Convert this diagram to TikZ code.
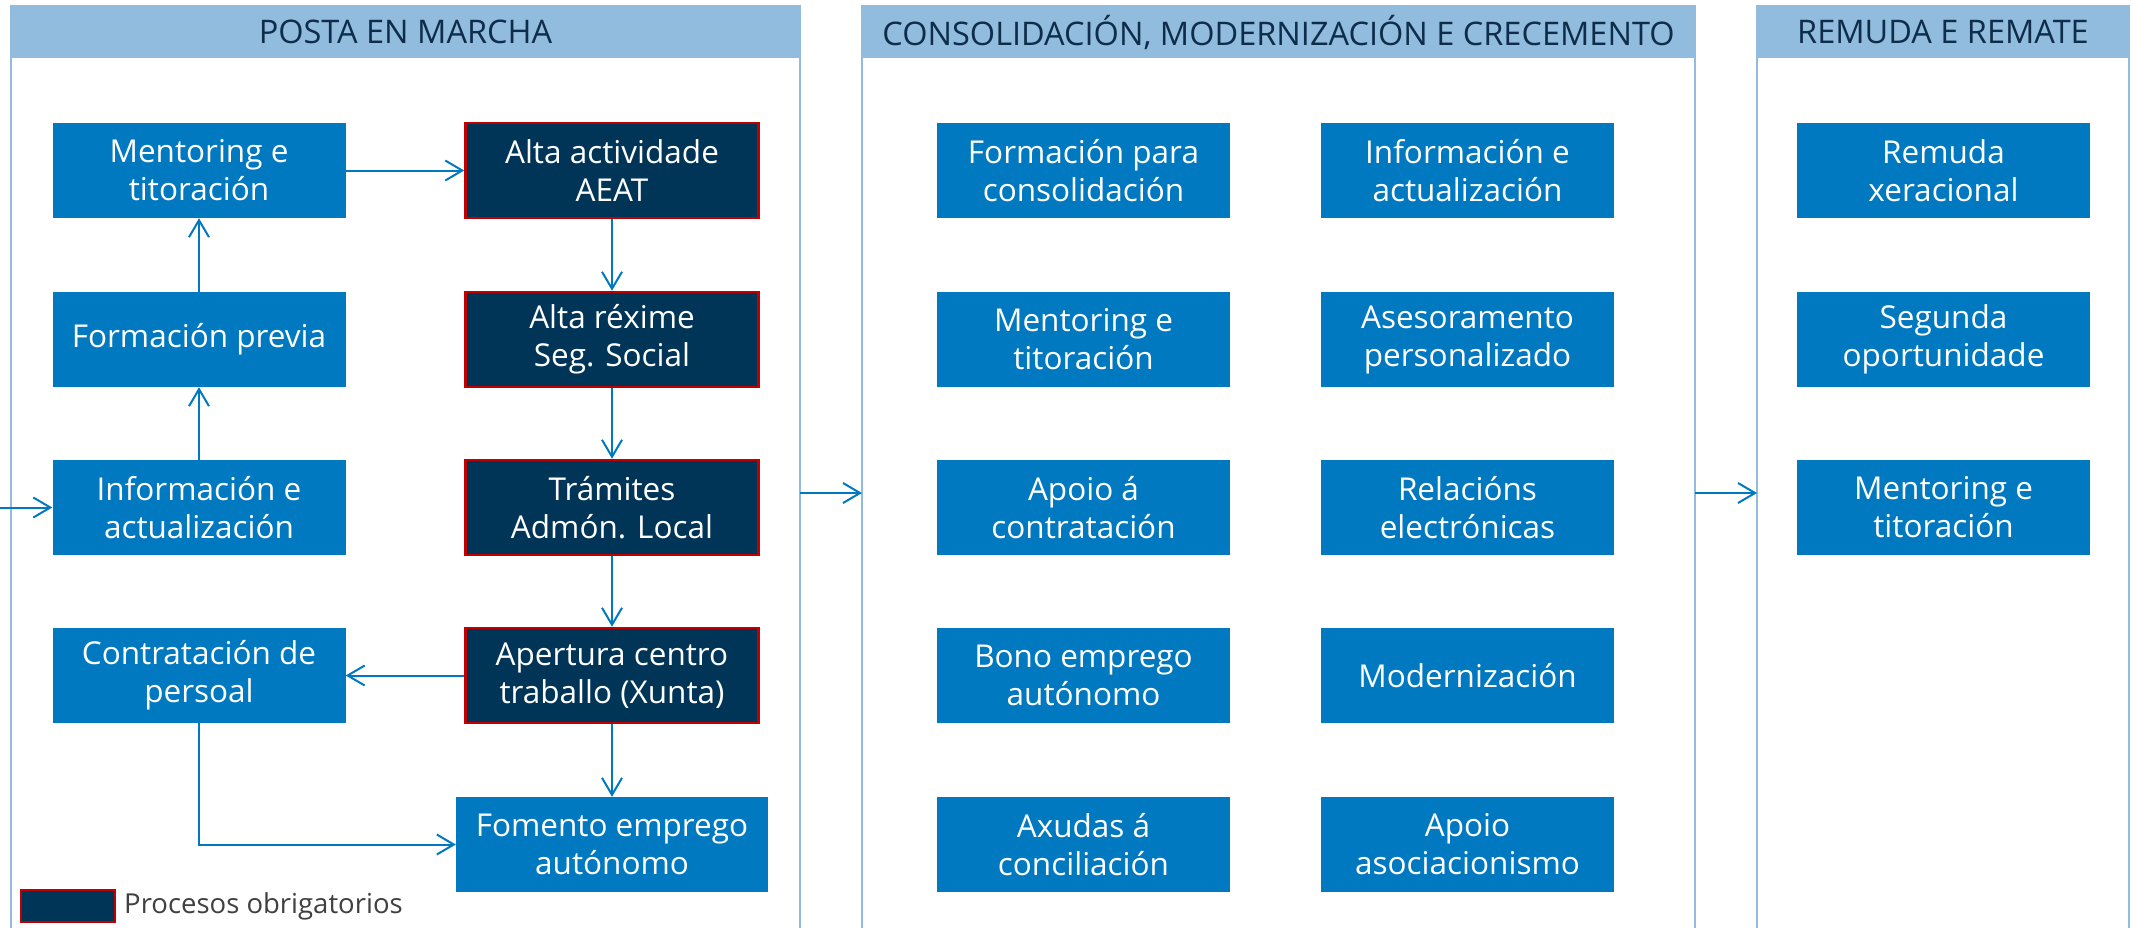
\documentclass[tikz,border=0pt]{standalone}
\usepackage{fontspec}
\setmainfont{Open Sans}
\usetikzlibrary{arrows.meta}
\definecolor{boxblue}{HTML}{0079C1}
\definecolor{darkbox}{HTML}{003558}
\definecolor{redline}{HTML}{C00000}
\definecolor{headfill}{HTML}{92BCDD}
\definecolor{headtext}{HTML}{0D2D4B}
\definecolor{legtext}{HTML}{404040}
\tikzset{
  stepbox/.style={fill=boxblue, minimum width=293pt, minimum height=95pt, inner sep=0pt,
    text=white, align=center, font=\fontsize{31.5}{38}\selectfont},
  mandbox/.style={stepbox, fill=darkbox, draw=redline, line width=2.5pt},
  conn/.style={draw=boxblue, line width=2pt, -{Straight Barb[length=17pt,width=20pt,line width=2pt]}},
  panelline/.style={draw=headfill, line width=2pt},
  headlabel/.style={text=headtext, font=\fontsize{32.5}{36}\selectfont, inner sep=0pt}
}
\begin{document}
\begin{tikzpicture}[x=1pt,y=-1pt]
\useasboundingbox (0,0) rectangle (2131,927);
\fill[white] (0,0) rectangle (2131,927);
% panels
\foreach \l/\r in {11/800, 862/1695, 1757/2129}{
  \fill[headfill] (\l,6) rectangle (\r,58);
  \draw[panelline] (\l,930) -- (\l,6) -- (\r,6) -- (\r,930);
}
\node[headlabel] (h1) at (405.5,32) {POSTA EN MARCHA};
\node[headlabel] (h2) at (1278.5,32) {CONSOLIDACIÓN, MODERNIZACIÓN E CRECEMENTO};
\node[headlabel] (h3) at (1943,32) {REMUDA E REMATE};
% panel 1
\node[stepbox] (ment) at (199,170.5) {Mentoring e\\titoración};
\node[stepbox] (form) at (199,339.5) {Formación previa};
\node[stepbox] (info) at (199,507.5) {Información e\\actualización};
\node[stepbox] (cont) at (199,675.5) {Contratación de\\persoal};
\node[mandbox] (aeat) at (612,170.5) {Alta actividade\\AEAT};
\node[mandbox] (segs) at (612,339.5) {Alta réxime\\Seg. Social};
\node[mandbox] (tram) at (612,507.5) {Trámites\\Admón. Local};
\node[mandbox] (aper) at (612,675.5) {Apertura centro\\traballo (Xunta)};
\node[stepbox, minimum width=312pt] (fome) at (612,844.5) {Fomento emprego\\autónomo};
% panel 2
\node[stepbox] (c1) at (1083.5,170.5) {Formación para\\consolidación};
\node[stepbox] (c2) at (1083.5,339.5) {Mentoring e\\titoración};
\node[stepbox] (c3) at (1083.5,507.5) {Apoio á\\contratación};
\node[stepbox] (c4) at (1083.5,675.5) {Bono emprego\\autónomo};
\node[stepbox] (c5) at (1083.5,844.5) {Axudas á\\conciliación};
\node[stepbox] (d1) at (1467.5,170.5) {Información e\\actualización};
\node[stepbox] (d2) at (1467.5,339.5) {Asesoramento\\personalizado};
\node[stepbox] (d3) at (1467.5,507.5) {Relacións\\electrónicas};
\node[stepbox] (d4) at (1467.5,675.5) {Modernización};
\node[stepbox] (d5) at (1467.5,844.5) {Apoio\\asociacionismo};
% panel 3
\node[stepbox] (r1) at (1943.5,170.5) {Remuda\\xeracional};
\node[stepbox] (r2) at (1943.5,339.5) {Segunda\\oportunidade};
\node[stepbox] (r3) at (1943.5,507.5) {Mentoring e\\titoración};
% legend
\node[fill=darkbox, draw=redline, line width=2.5pt, minimum width=94pt, minimum height=32pt, inner sep=0pt] (leg) at (68,906) {};
\node[anchor=west, text=legtext, font=\fontsize{27.5}{32}\selectfont, inner sep=0pt] (legt) at (124,906) {Procesos obrigatorios};
% connectors
\coordinate (in) at (0,507.5);
\coordinate (p1r) at (800,493);
\coordinate (p2l) at (862,493);
\coordinate (p2r) at (1695,493);
\coordinate (p3l) at (1757,493);
\draw[conn] (in) -- (info.west);
\draw[conn] (info) -- (form);
\draw[conn] (form) -- (ment);
\draw[conn] (ment) -- (aeat);
\draw[conn] (aeat) -- (segs);
\draw[conn] (segs) -- (tram);
\draw[conn] (tram) -- (aper);
\draw[conn] (aper) -- (cont);
\draw[conn] (aper) -- (fome);
\draw[conn] (cont.south) |- (fome.west);
\draw[conn] (p1r) -- (p2l);
\draw[conn] (p2r) -- (p3l);
\end{tikzpicture}
\end{document}
